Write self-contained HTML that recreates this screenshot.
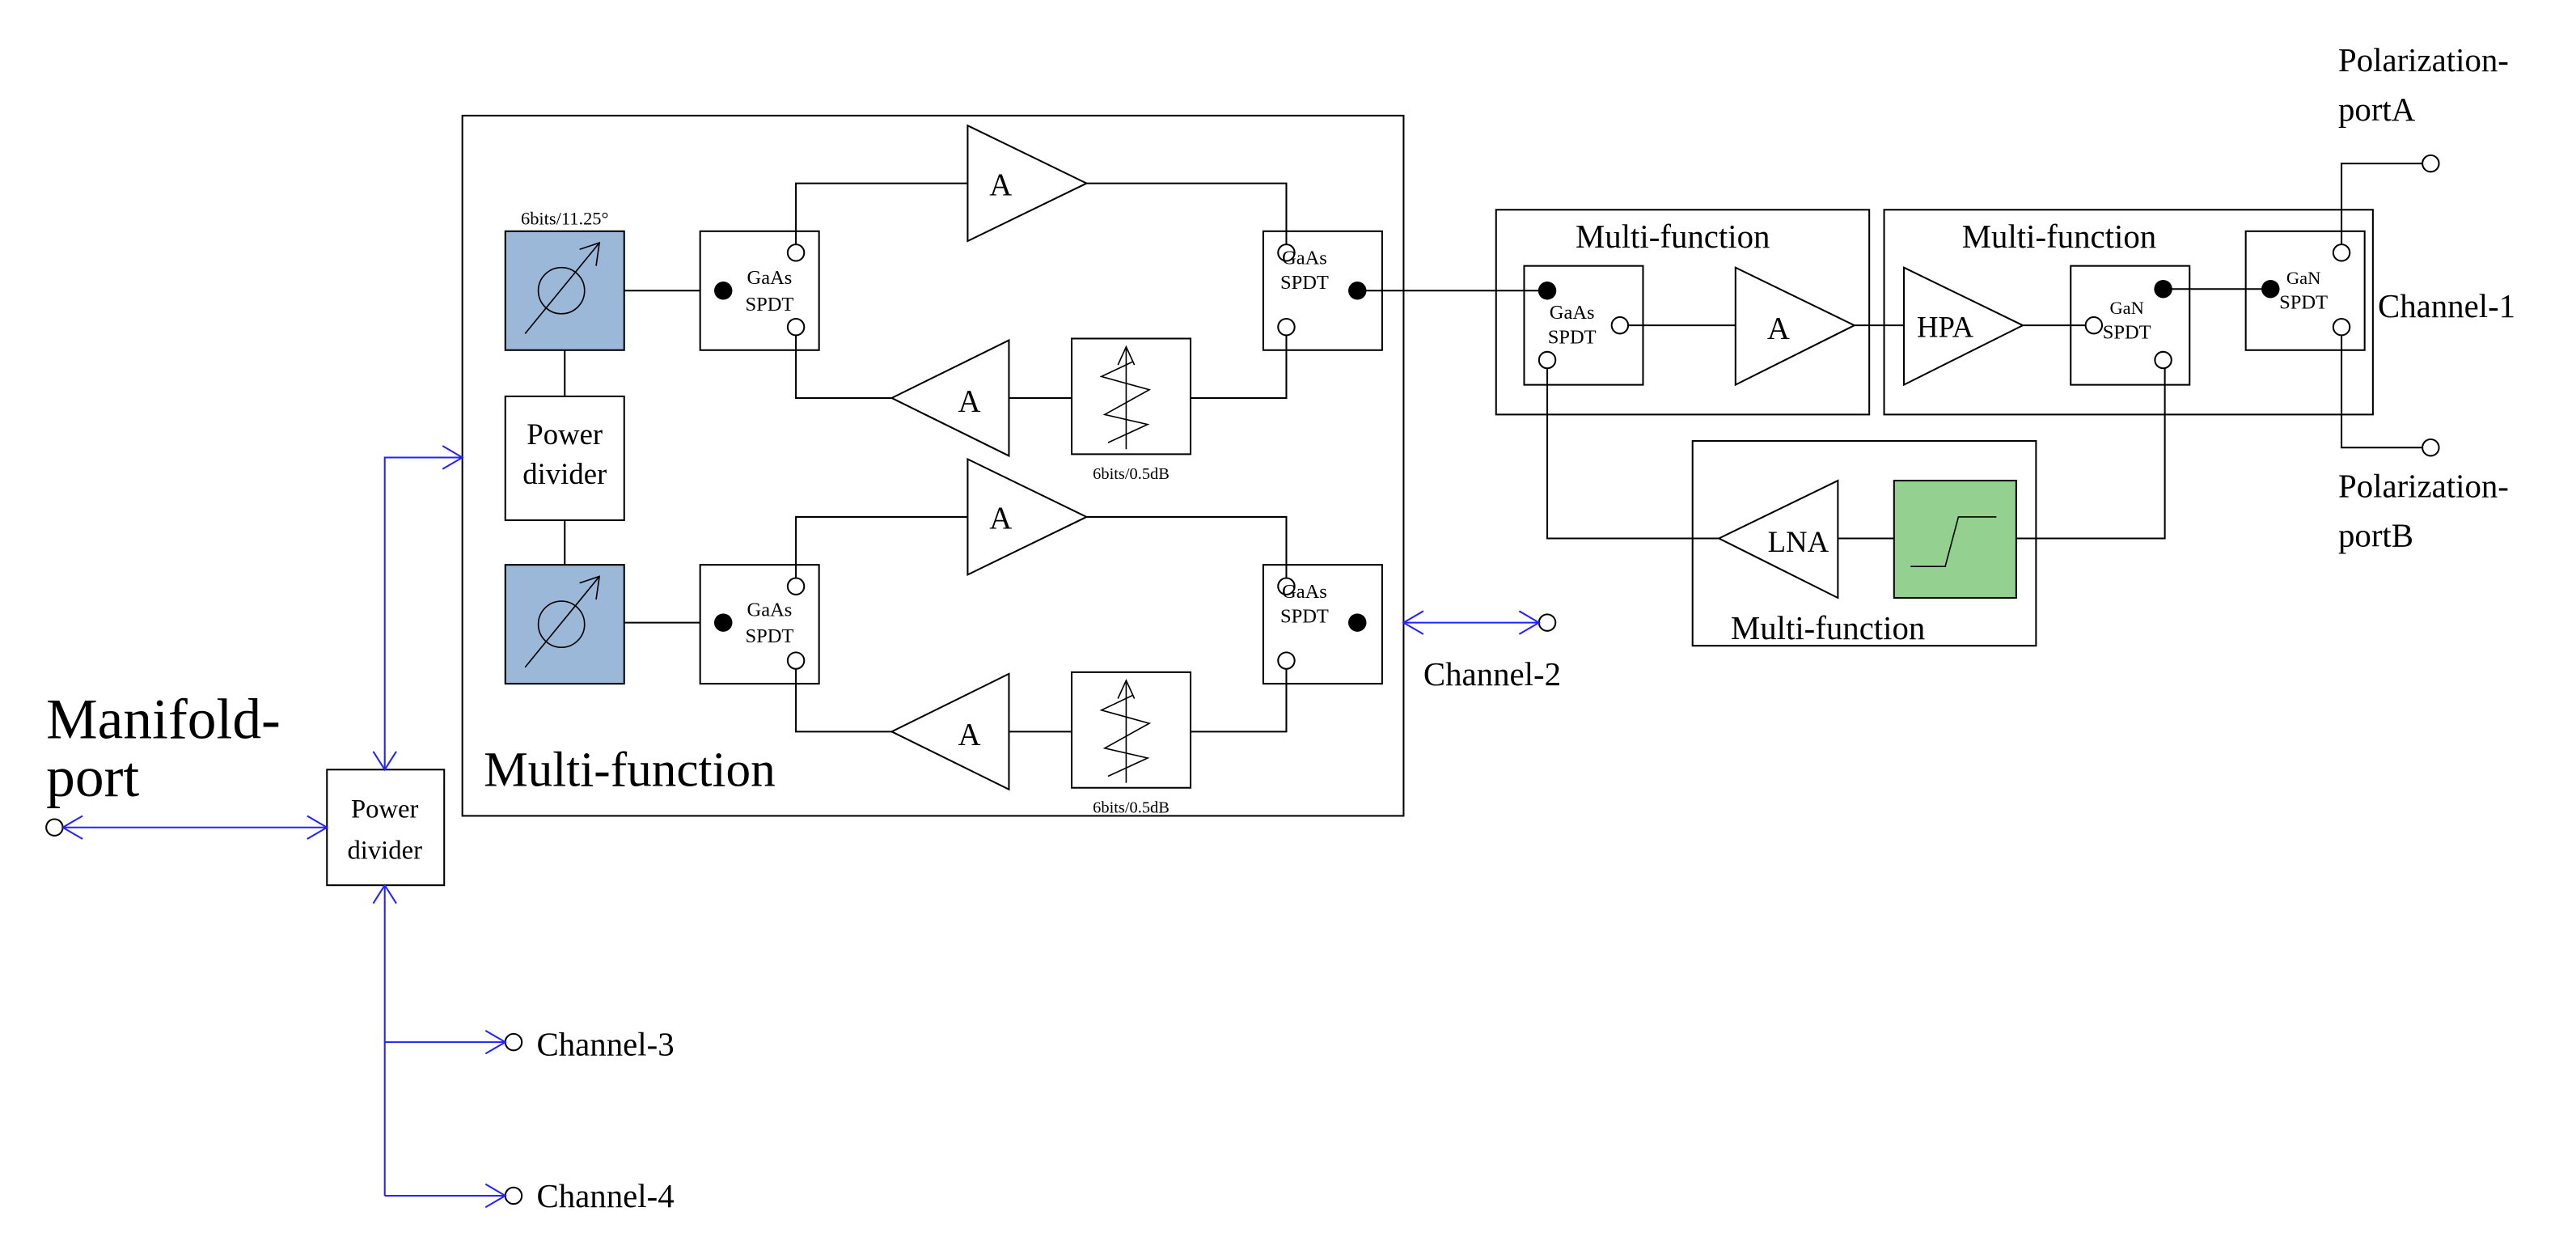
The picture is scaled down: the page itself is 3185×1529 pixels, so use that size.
<!DOCTYPE html>
<html><head><meta charset="utf-8"><style>html,body{margin:0;padding:0;background:#fff}svg{display:block}</style></head>
<body>
<svg width="3185" height="1529" viewBox="0 0 1560 749" preserveAspectRatio="none" xmlns="http://www.w3.org/2000/svg" font-family="Liberation Serif, serif">
<defs>
<g id="ps"><rect x="0" y="0" width="72" height="72" fill="#9bb8d9" stroke="#000" stroke-width="1"/><circle cx="34" cy="36" r="14" fill="none" stroke="#000" stroke-width="0.8"/><line x1="12" y1="62" x2="57" y2="7" stroke="#000" stroke-width="0.8"/><polyline points="45,11 57,7 55,21" fill="none" stroke="#000" stroke-width="0.8"/></g>
<g id="att"><rect x="0" y="0" width="72" height="70" fill="#fff" stroke="#000" stroke-width="1"/><line x1="33" y1="67" x2="33" y2="5" stroke="#000" stroke-width="0.8"/><polyline points="28,16 33,5 38,16" fill="none" stroke="#000" stroke-width="0.8"/><polyline points="37,14 18,23 47,31 20,46 46,52 22,63" fill="none" stroke="#000" stroke-width="0.8"/></g>
</defs>
<g stroke="#000" stroke-width="1" fill="none">
<rect x="280" y="70" width="570" height="424"/>
<rect x="306" y="240" width="72" height="75" fill="#fff"/>
<line x1="342" y1="212" x2="342" y2="240"/><line x1="342" y1="315" x2="342" y2="342"/>
<line x1="378" y1="176" x2="424" y2="176"/><line x1="378" y1="377" x2="424" y2="377"/>
<rect x="424" y="140" width="72" height="72"/><rect x="765" y="140" width="72" height="72"/>
<polyline points="482,148 482,111 586,111"/><polyline points="658,111 779,111 779,148"/>
<polygon points="586,76 658,111 586,146" fill="#fff"/>
<polyline points="482,203 482,241 540,241"/><line x1="611" y1="241" x2="649" y2="241"/><polyline points="721,241 779,241 779,203"/>
<polygon points="611,206 540,241 611,276" fill="#fff"/>
<rect x="424" y="342" width="72" height="72"/><rect x="765" y="342" width="72" height="72"/>
<polyline points="482,350 482,313 586,313"/><polyline points="658,313 779,313 779,350"/>
<polygon points="586,278 658,313 586,348" fill="#fff"/>
<polyline points="482,405 482,443 540,443"/><line x1="611" y1="443" x2="649" y2="443"/><polyline points="721,443 779,443 779,405"/>
<polygon points="611,408 540,443 611,478" fill="#fff"/>
<circle cx="482" cy="153" r="5" fill="#fff"/><circle cx="482" cy="198" r="5" fill="#fff"/>
<circle cx="779" cy="153" r="5" fill="#fff"/><circle cx="779" cy="198" r="5" fill="#fff"/>
<circle cx="482" cy="355" r="5" fill="#fff"/><circle cx="482" cy="400" r="5" fill="#fff"/>
<circle cx="779" cy="355" r="5" fill="#fff"/><circle cx="779" cy="400" r="5" fill="#fff"/>
<line x1="822" y1="176" x2="937" y2="176"/>
<rect x="906" y="127" width="226" height="124"/>
<rect x="923" y="161" width="72" height="72"/>
<line x1="986" y1="197" x2="1051" y2="197"/>
<polygon points="1051,162 1123,197 1051,233" fill="#fff"/>
<line x1="1123" y1="197" x2="1153" y2="197"/>
<rect x="1141" y="127" width="296" height="124"/>
<polygon points="1153,162 1225,197 1153,233" fill="#fff"/>
<line x1="1225" y1="197" x2="1263" y2="197"/>
<rect x="1254" y="161" width="72" height="72"/>
<line x1="1310" y1="175" x2="1375" y2="175"/>
<rect x="1360" y="140" width="72" height="72"/>
<polyline points="1418,148 1418,99 1467,99"/><polyline points="1418,203 1418,271 1467,271"/>
<circle cx="1472" cy="99" r="5" fill="#fff"/><circle cx="1472" cy="271" r="5" fill="#fff"/>
<circle cx="1418" cy="153" r="5" fill="#fff"/><circle cx="1418" cy="198" r="5" fill="#fff"/>
<circle cx="981" cy="197" r="5" fill="#fff"/><circle cx="937" cy="218" r="5" fill="#fff"/>
<circle cx="1268" cy="197" r="5" fill="#fff"/><circle cx="1310" cy="218" r="5" fill="#fff"/>
<rect x="1025" y="267" width="208" height="124"/>
<polyline points="937,223 937,326 1041,326"/>
<polygon points="1113,291 1041,326 1113,362" fill="#fff"/>
<line x1="1113" y1="326" x2="1147" y2="326"/>
<rect x="1147" y="291" width="74" height="71" fill="#94d190"/>
<polyline points="1157,343 1178,343 1186,313 1209,313" stroke-width="0.8"/>
<polyline points="1221,326 1311,326 1311,223"/>
<rect x="198" y="466" width="71" height="70"/>
<circle cx="33" cy="501" r="5" fill="#fff"/>
<circle cx="937" cy="377" r="5" fill="#fff"/>
<circle cx="311" cy="631" r="5" fill="#fff"/>
<circle cx="311" cy="724" r="5" fill="#fff"/>
</g>
<g fill="#000">
<circle cx="438" cy="176" r="5.5"/><circle cx="822" cy="176" r="5.5"/>
<circle cx="438" cy="377" r="5.5"/><circle cx="822" cy="377" r="5.5"/>
<circle cx="937" cy="176" r="5.5"/><circle cx="1310" cy="175" r="5.5"/><circle cx="1375" cy="175" r="5.5"/>
</g>
<use href="#ps" x="306" y="140"/><use href="#ps" x="306" y="342"/>
<use href="#att" x="649" y="205"/><use href="#att" x="649" y="407"/>
<g stroke="#2222ff" stroke-width="1" fill="none">
<line x1="38" y1="501" x2="198" y2="501"/>
<polyline points="50,494 38,501 50,508"/><polyline points="186,494 198,501 186,508"/>
<polyline points="233,466 233,277 280,277"/>
<polyline points="268,270 280,277 268,284"/>
<polyline points="226,455 233,466 240,455"/>
<line x1="233" y1="536" x2="233" y2="724"/>
<polyline points="226,547 233,536 240,547"/>
<line x1="233" y1="631" x2="306" y2="631"/><polyline points="294,624 306,631 294,638"/>
<line x1="233" y1="724" x2="306" y2="724"/><polyline points="294,717 306,724 294,731"/>
<line x1="850" y1="377" x2="932" y2="377"/>
<polyline points="862,370 850,377 862,384"/><polyline points="920,370 932,377 920,384"/>
</g>
<g fill="#000" text-anchor="middle">
<text x="342" y="136" font-size="11">6bits/11.25°</text>
<text x="342" y="269" font-size="18">Power</text><text x="342" y="293" font-size="18">divider</text>
<text x="466" y="172" font-size="12">GaAs</text><text x="466" y="188" font-size="12">SPDT</text>
<text x="790" y="160" font-size="12">GaAs</text><text x="790" y="175" font-size="12">SPDT</text>
<text x="466" y="373" font-size="12">GaAs</text><text x="466" y="389" font-size="12">SPDT</text>
<text x="790" y="362" font-size="12">GaAs</text><text x="790" y="377" font-size="12">SPDT</text>
<text x="606" y="118" font-size="19">A</text><text x="587" y="249" font-size="19">A</text>
<text x="606" y="320" font-size="19">A</text><text x="587" y="451" font-size="19">A</text>
<text x="685" y="290" font-size="10">6bits/0.5dB</text><text x="685" y="492" font-size="10">6bits/0.5dB</text>
<text x="1013" y="150" font-size="20">Multi-function</text>
<text x="1247" y="150" font-size="20">Multi-function</text>
<text x="1107" y="387" font-size="20">Multi-function</text>
<text x="952" y="193" font-size="12">GaAs</text><text x="952" y="208" font-size="12">SPDT</text>
<text x="1077" y="205" font-size="19">A</text>
<text x="1178" y="204" font-size="18">HPA</text>
<text x="1288" y="190" font-size="11">GaN</text><text x="1288" y="205" font-size="12">SPDT</text>
<text x="1395" y="172" font-size="11">GaN</text><text x="1395" y="187" font-size="12">SPDT</text>
<text x="1089" y="334" font-size="18">LNA</text>
<text x="233" y="495" font-size="16">Power</text><text x="233" y="520" font-size="16">divider</text>
</g>
<g fill="#000">
<text x="293" y="476" font-size="30">Multi-function</text>
<text x="28" y="447" font-size="35">Manifold-</text><text x="28" y="482" font-size="35">port</text>
<text x="862" y="415" font-size="20">Channel-2</text>
<text x="325" y="639" font-size="20">Channel-3</text>
<text x="325" y="731" font-size="20">Channel-4</text>
<text x="1440" y="192" font-size="20">Channel-1</text>
<text x="1416" y="43" font-size="20">Polarization-</text><text x="1416" y="73" font-size="20">portA</text>
<text x="1416" y="301" font-size="20">Polarization-</text><text x="1416" y="331" font-size="20">portB</text>
</g>
</svg>
</body></html>
